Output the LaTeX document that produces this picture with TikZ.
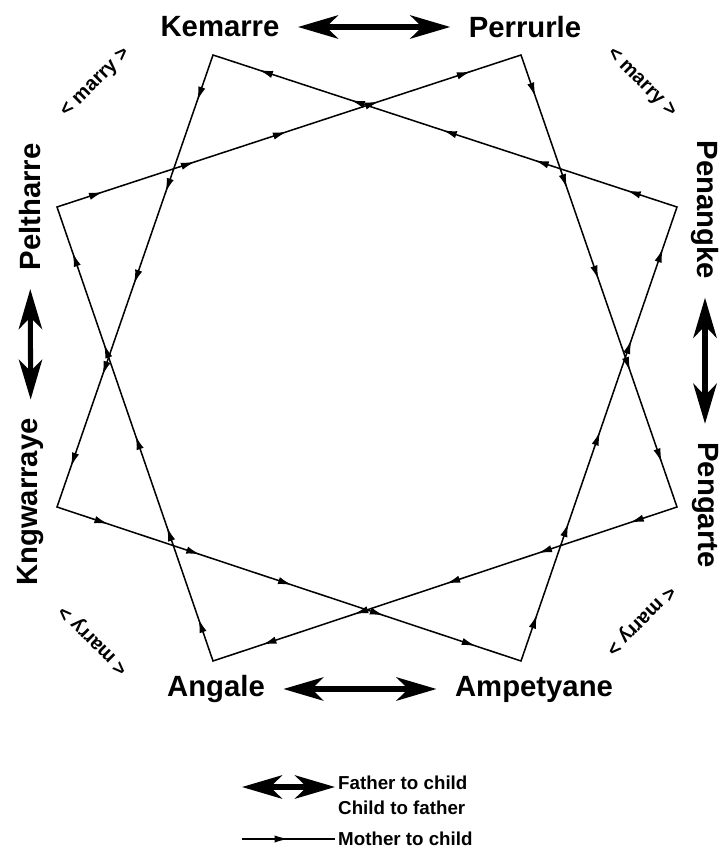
\documentclass[tikz,border=0pt]{standalone}
\usepackage{fontspec}
\setmainfont{Liberation Sans}
\usetikzlibrary{arrows.meta,decorations.markings}

\tikzset{
    mtip/.tip={Latex[length=4.2mm,width=2.2mm]},
    ftip/.tip={Stealth[length=12mm,width=7mm,inset=3.5mm]},
}

\begin{document}
\begin{tikzpicture}[x=0.03cm, y=-0.03cm,
    skin/.style={font=\fontsize{25}{29}\selectfont\bfseries, inner sep=0pt},
    marry/.style={font=\fontsize{17}{19}\selectfont\bfseries, inner sep=0pt},
    legend/.style={font=\fontsize{16}{21}\selectfont\bfseries, inner sep=0pt, align=left, anchor=west},
    fline/.style={line width=4.3pt, ftip-ftip, shorten <=5.5mm, shorten >=5.5mm},
    mline/.style={line width=1.3pt},
    mcycle/.style={mline, decoration={markings,
        mark=between positions 0.025 and 0.98 step 0.05 with {\arrow{mtip}}},
        postaction={decorate}},
    mkey/.style={mline, decoration={markings,
        mark=at position 0.5 with {\arrow{mtip}}}, postaction={decorate}},
]
    \useasboundingbox (0,0) rectangle (721,852);

    % skin names
    \node[skin] (kemlab) at (220,27) {Kemarre};
    \node[skin] (perlab) at (525,27) {Perrurle};
    \node[skin, rotate=-90] (penlab) at (705,210) {Penangke};
    \node[skin, rotate=-90] (penglab) at (705,505) {Pengarte};
    \node[skin] (amplab) at (534,689) {Ampetyane};
    \node[skin] (anglab) at (216,689) {Angale};
    \node[skin, rotate=90] (kngwlab) at (31,502) {Kngwarraye};
    \node[skin, rotate=90] (pellab) at (30,207) {Peltharre};

    % father <-> child
    \draw[fline] (kemlab) -- (perlab);
    \draw[fline] (penlab) -- (penglab);
    \draw[fline] (anglab) -- (amplab);
    \draw[fline] (pellab) -- (kngwlab);

    % marriage
    \node[marry, rotate=45] (marrytl) at (96,83) {< marry >};
    \node[marry, rotate=-45] (marrytr) at (641,83) {< marry >};
    \node[marry, rotate=135] (marrybl) at (94,640) {< marry >};
    \node[marry, rotate=-135] (marrybr) at (640,620) {< marry >};

    % corners of the two cycles
    \coordinate (kem) at (213,55);
    \coordinate (per) at (521,55);
    \coordinate (pen) at (677,207);
    \coordinate (peng) at (677,507);
    \coordinate (amp) at (521,661);
    \coordinate (ang) at (213,661);
    \coordinate (kngw) at (57,507);
    \coordinate (pel) at (57,207);

    % mother -> child
    \draw[mcycle] (kem) -- (kngw) -- (amp) -- (pen) -- cycle;
    \draw[mcycle] (pel) -- (per) -- (peng) -- (ang) -- cycle;

    % key
    \coordinate (fkeya) at (242,787);
    \coordinate (fkeyb) at (335,787);
    \draw[fline, shorten <=0pt, shorten >=0pt] (fkeya) -- (fkeyb);
    \node[legend] (fkeylab) at (338,795) {Father to child\\Child to father};
    \coordinate (mkeya) at (242,839);
    \coordinate (mkeyb) at (335,839);
    \draw[mkey] (mkeya) -- (mkeyb);
    \node[legend] (mkeylab) at (338,839) {Mother to child};
\end{tikzpicture}
\end{document}
